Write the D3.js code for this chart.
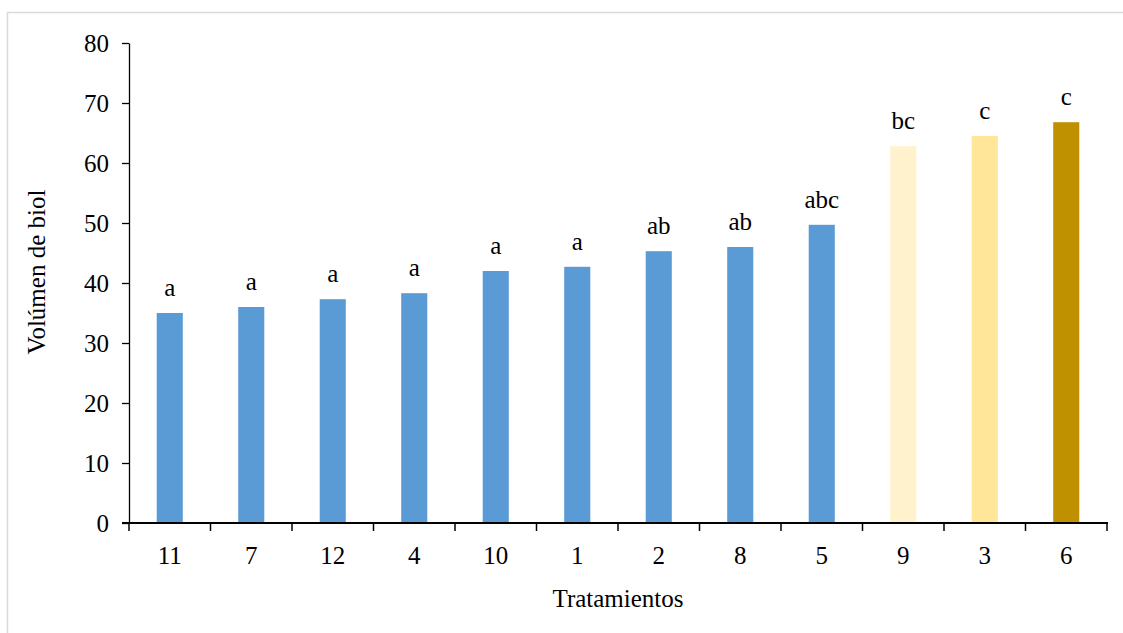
<!DOCTYPE html>
<html>
<head>
<meta charset="utf-8">
<script src="https://cdn.jsdelivr.net/npm/d3@7"></script>
<style>
  html, body { margin: 0; padding: 0; background: #fff; }
  svg { display: block; }
</style>
</head>
<body>
<svg id="chart" width="1123" height="633"></svg>
<script>
const categories = ["11", "7", "12", "4", "10", "1", "2", "8", "5", "9", "3", "6"];
const values = [35.0, 36.0, 37.3, 38.3, 42.0, 42.7, 45.3, 46.0, 49.7, 62.8, 64.5, 66.8];
const letters = ["a", "a", "a", "a", "a", "a", "ab", "ab", "abc", "bc", "c", "c"];
const colors = ["#5B9BD5", "#5B9BD5", "#5B9BD5", "#5B9BD5", "#5B9BD5", "#5B9BD5", "#5B9BD5", "#5B9BD5", "#5B9BD5", "#FFF2CC", "#FFE699", "#BF9000"];
const yTicks = [0, 10, 20, 30, 40, 50, 60, 70, 80];
const xTitle = "Tratamientos";
const yTitle = "Volúmen de biol";

const svg = d3.select("#chart");
const W = 1123, H = 633;
const FONT = "Liberation Serif";

svg.append("rect")
  .attr("x", 7.5).attr("y", 12.5)
  .attr("width", W + 10).attr("height", H + 10)
  .attr("fill", "none").attr("stroke", "#d9d9d9").attr("stroke-width", 1.5);

const x = d3.scaleBand().domain(categories).range([129, 1107]).paddingInner(0.68).paddingOuter(0.34);
const xb = d3.scaleBand().domain(categories).range([129, 1107]).padding(0);
const y = d3.scaleLinear().domain([0, 80]).range([523, 43]);

svg.append("g").selectAll("rect")
  .data(categories)
  .join("rect")
  .attr("x", d => x(d))
  .attr("width", x.bandwidth())
  .attr("y", (d, i) => y(values[i]))
  .attr("height", (d, i) => y(0) - y(values[i]))
  .attr("fill", (d, i) => colors[i]);

svg.append("g").selectAll("text")
  .data(categories)
  .join("text")
  .attr("x", d => x(d) + x.bandwidth() / 2)
  .attr("y", (d, i) => y(values[i]) - 17)
  .attr("text-anchor", "middle")
  .attr("font-family", FONT)
  .attr("font-size", 25)
  .text((d, i) => letters[i]);

const yAxis = svg.append("g")
  .attr("transform", "translate(129,0)")
  .call(d3.axisLeft(y).tickValues(yTicks).tickSize(7).tickSizeOuter(0).tickPadding(13));
yAxis.attr("font-family", FONT).attr("font-size", 25);
yAxis.select(".domain").attr("stroke", "#000").attr("stroke-width", 1.3);
yAxis.selectAll(".tick line").attr("stroke", "#000").attr("stroke-width", 1.3);
yAxis.selectAll(".tick text").attr("fill", "#000");

const xAxis = svg.append("g")
  .attr("transform", "translate(0,523)")
  .call(d3.axisBottom(xb).tickSize(0).tickPadding(23));
xAxis.attr("font-family", FONT).attr("font-size", 25);
xAxis.select(".domain").remove();
xAxis.selectAll(".tick text").attr("fill", "#000");

const bounds = categories.map(d => xb(d)).concat([xb.range()[1]]);
svg.append("g").selectAll("line")
  .data(bounds)
  .join("line")
  .attr("x1", d => d).attr("x2", d => d)
  .attr("y1", 523).attr("y2", 531)
  .attr("stroke", "#000").attr("stroke-width", 1.5);
svg.append("line")
  .attr("x1", 122).attr("x2", 1108)
  .attr("y1", 523).attr("y2", 523)
  .attr("stroke", "#000").attr("stroke-width", 2);

svg.append("text")
  .attr("x", (129 + 1107) / 2).attr("y", 607)
  .attr("text-anchor", "middle")
  .attr("font-family", FONT)
  .attr("font-size", 25)
  .text(xTitle);

svg.append("text")
  .attr("transform", "translate(45,272) rotate(-90)")
  .attr("text-anchor", "middle")
  .attr("font-family", FONT)
  .attr("font-size", 25)
  .text(yTitle);
</script>
</body>
</html>
